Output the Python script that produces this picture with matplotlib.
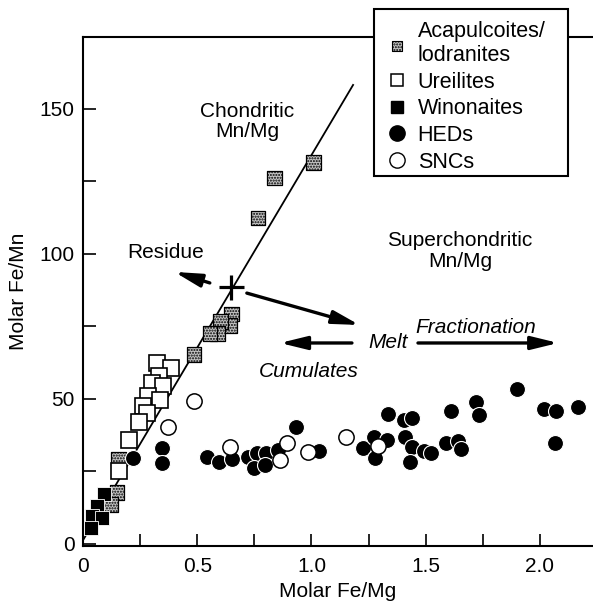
"""Molar Fe/Mn vs Fe/Mg for achondrite groups (recreated figure)."""
import numpy as np
import matplotlib
matplotlib.use("Agg")
import matplotlib.pyplot as plt
from matplotlib.lines import Line2D
from matplotlib.patches import Rectangle

plt.rcParams["font.family"] = ["Liberation Sans", "DejaVu Sans"]
FS = 15
W, H = 593, 603

# ---- data ----
aca_x = [1.007, 0.84, 0.766, 0.648, 0.64, 0.60, 0.59, 0.556, 0.486, 0.155, 0.149, 0.12]
aca_y = [131.4, 126.2, 112.4, 79.3, 75.2, 76.6, 72.6, 72.6, 65.2, 29.3, 17.6, 13.6]

ure_x = [0.324, 0.385, 0.333, 0.302, 0.35, 0.284, 0.337, 0.263, 0.28, 0.245, 0.2, 0.158]
ure_y = [62.4, 60.7, 57.9, 55.5, 54.5, 51.0, 49.5, 47.5, 45.2, 42.2, 35.9, 25.3]

win_x = [0.092, 0.061, 0.04, 0.083, 0.035]
win_y = [17.3, 13.1, 9.7, 9.0, 5.5]

hed_x = [0.219, 0.346, 0.346, 0.543, 0.595, 0.65, 0.722, 0.763, 0.802, 0.75,
         0.798, 0.853, 0.933, 1.033, 1.227, 1.272, 1.33, 1.277, 1.335, 1.405,
         1.442, 1.41, 1.442, 1.432, 1.493, 1.522, 1.61, 1.59, 1.64, 1.655,
         1.72, 1.733, 1.9, 2.017, 2.07, 2.166, 2.066]
hed_y = [29.6, 33.1, 27.9, 30.0, 28.3, 29.2, 30.0, 31.3, 31.5, 26.2,
         27.2, 32.4, 40.4, 32.2, 33.2, 36.9, 36.0, 29.6, 44.8, 42.8,
         43.4, 37.0, 33.4, 28.2, 32.2, 31.4, 45.9, 34.8, 35.5, 32.8,
         49.0, 44.5, 53.4, 46.6, 45.9, 47.2, 34.8]

snc_x = [0.372, 0.486, 0.643, 0.86, 0.893, 0.985, 1.15, 1.293]
snc_y = [40.4, 49.3, 33.4, 29.0, 34.7, 31.8, 36.8, 33.8]

# chondritic Mn/Mg reference line
line_x = [0.0, 1.182]
line_slope, line_icpt = 132.8, 1.3

cross_x, cross_y = 0.648, 88.5

fig = plt.figure(figsize=(W / 100, H / 100), dpi=100)
ax = fig.add_axes([83 / W, 1 - 546 / H, 510 / W, 509 / H])

lx = np.array(line_x)
ax.plot(lx, line_icpt + line_slope * lx, color="black", lw=1.3, zorder=1)

ax.scatter(aca_x, aca_y, s=115, marker="s", facecolor="#c4c4c4",
           edgecolor="black", linewidth=0.9, hatch="......", zorder=3)
ax.plot(ure_x, ure_y, "s", ms=11, mfc="white", mec="black", mew=1.2, zorder=3)
ax.plot(win_x, win_y, "s", ms=10.5, mfc="black", mec="white", mew=0.6, zorder=3)
ax.plot(hed_x, hed_y, "o", ms=11.5, mfc="black", mec="white", mew=0.8, zorder=4)
ax.plot(snc_x, snc_y, "o", ms=11, mfc="white", mec="black", mew=1.1, zorder=5)

ax.plot(cross_x, cross_y, "+", ms=18, mew=2.3, color="black", zorder=6)

arrow = dict(arrowstyle="-|>,head_length=0.9,head_width=0.22", color="black",
             lw=2.4, shrinkA=0, shrinkB=0, mutation_scale=18)
ax.annotate("", xy=(0.40, 93.8), xytext=(0.555, 90.0), arrowprops=arrow)
ax.annotate("", xy=(1.21, 75.5), xytext=(0.717, 86.5), arrowprops=arrow)
ax.annotate("", xy=(0.862, 69.3), xytext=(1.177, 69.3), arrowprops=arrow)
ax.annotate("", xy=(2.08, 69.3), xytext=(1.466, 69.3), arrowprops=arrow)

ax.text(0.72, 145.7, "Chondritic\nMn/Mg", ha="center", va="center",
        fontsize=FS, linespacing=1.1)
ax.text(0.36, 100.5, "Residue", ha="center", va="center", fontsize=FS)
ax.text(1.65, 101.0, "Superchondritic\nMn/Mg", ha="center", va="center",
        fontsize=FS, linespacing=1.1)
ax.text(1.335, 69.3, "Melt", ha="center", va="center", fontsize=FS, style="italic")
ax.text(1.72, 74.8, "Fractionation", ha="center", va="center", fontsize=FS,
        style="italic")
ax.text(0.99, 59.5, "Cumulates", ha="center", va="center", fontsize=FS,
        style="italic")

ax.set_xlim(0, 2.232)
ax.set_ylim(-0.7, 174.8)
ax.set_xticks([0, 0.25, 0.5, 0.75, 1.0, 1.25, 1.5, 1.75, 2.0])
ax.set_xticklabels(["0", "", "0.5", "", "1.0", "", "1.5", "", "2.0"])
ax.set_yticks([0, 25, 50, 75, 100, 125, 150])
ax.set_yticklabels(["0", "", "50", "", "100", "", "150"])
ax.tick_params(direction="in", length=9, width=1.2, labelsize=FS)
ax.tick_params(axis="x", pad=8)
ax.tick_params(axis="y", pad=6)
for side in ("left", "bottom", "top"):
    ax.spines[side].set_linewidth(1.5)
ax.spines["right"].set_visible(False)

ax.set_xlabel("Molar Fe/Mg", fontsize=FS, va="center")
ax.xaxis.set_label_coords(0.5, -0.090)
ax.set_ylabel("Molar Fe/Mn", fontsize=FS, va="center")
ax.yaxis.set_label_coords(-0.127, 0.5)

# legend box drawn by hand so it can sit over the top spine
box = Rectangle((374 / W, 1 - 176 / H), (568 - 374) / W, (176 - 9) / H,
                transform=fig.transFigure, facecolor="white", edgecolor="black",
                linewidth=1.5, zorder=9)
fig.patches.append(box)

handles = [
    ax.scatter([], [], s=55, marker="s", facecolor="#c4c4c4",
               edgecolor="black", linewidth=0.8, hatch="......"),
    Line2D([], [], ls="none", marker="s", ms=9, mfc="white", mec="black", mew=1.1),
    Line2D([], [], ls="none", marker="s", ms=9, mfc="black", mec="black"),
    Line2D([], [], ls="none", marker="o", ms=11, mfc="black", mec="black"),
    Line2D([], [], ls="none", marker="o", ms=11, mfc="white", mec="black", mew=1.0),
]
labels = ["Acapulcoites/\nlodranites", "Ureilites", "Winonaites", "HEDs", "SNCs"]
leg = fig.legend(handles, labels, loc="upper left",
                 bbox_to_anchor=(386 / W, 1 - 21 / H), fontsize=15.5,
                 frameon=False, handlelength=1.0, handletextpad=0.47,
                 borderpad=0, labelspacing=0.26, borderaxespad=0)
for t in leg.get_texts():
    t.set_linespacing(1.2)
leg.set_zorder(10)

fig.savefig("out.png", dpi=100)
